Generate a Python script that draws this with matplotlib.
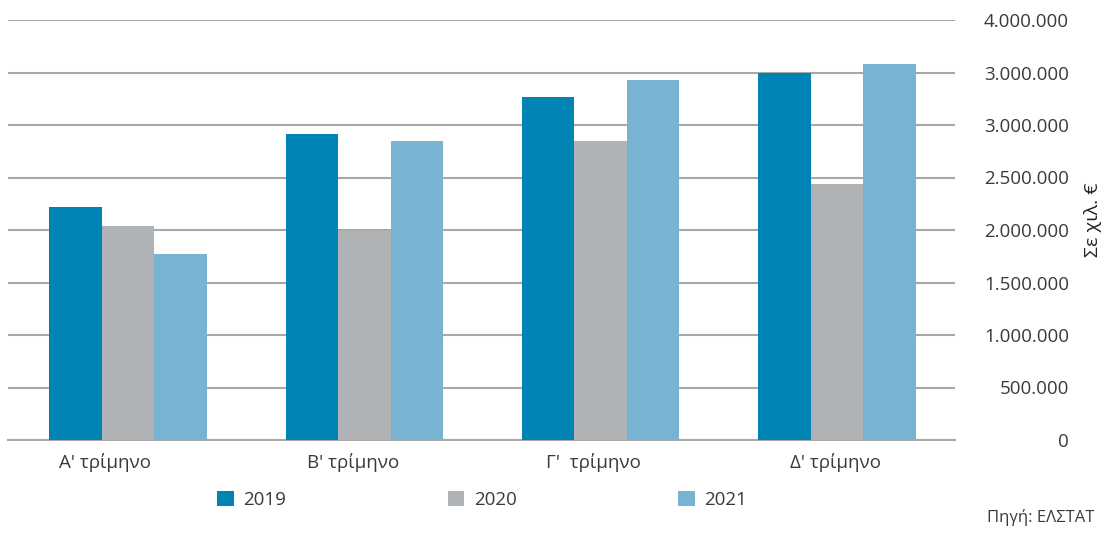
import numpy as np
import matplotlib.pyplot as plt
from matplotlib.transforms import ScaledTranslation

plt.rcParams['font.family'] = ['Open Sans', 'DejaVu Sans']

quarters = ["Α' τρίμηνο", "Β' τρίμηνο", "Γ'  τρίμηνο", "Δ' τρίμηνο"]
years = ["2019", "2020", "2021"]
v2019 = [2220000, 2915000, 3265000, 3495000]
v2020 = [2040000, 1990000, 2850000, 2440000]
v2021 = [1770000, 2850000, 3430000, 3580000]
yticks = [0, 500000, 1000000, 1500000, 2000000, 2500000, 3000000, 3500000, 4000000]
ytick_labels = ["0", "500.000", "1.000.000", "1.500.000", "2.000.000",
                "2.500.000", "3.000.000", "3.000.000", "4.000.000"]
colors = ["#0084b5", "#b0b3b6", "#78b4d1"]
label_shift = [-23, -11, -7, -1]  # px, category labels sit a bit left of the groups

fig = plt.figure(figsize=(11.05, 5.33), dpi=100)
ax = fig.add_axes([8 / 1105, 1 - 440 / 533, 947 / 1105, 420 / 533])

x = np.arange(len(quarters))
w = 0.222
for i, (vals, lab) in enumerate(zip([v2019, v2020, v2021], years)):
    ax.bar(x + (i - 1) * w, vals, w, color=colors[i], label=lab, zorder=3)

ax.set_xlim(-0.508, 3.5)
ax.set_ylim(0, 4000000)
ax.set_yticks(yticks)
ax.set_yticklabels(ytick_labels)
ax.yaxis.tick_right()
ax.tick_params(axis='y', length=0, pad=82, labelsize=13.5, labelcolor='#3a3a3a')
for t in ax.get_yticklabels():
    t.set_horizontalalignment('right')
ax.set_xticks(x)
ax.set_xticklabels(quarters)
ax.tick_params(axis='x', length=0, pad=9, labelsize=13.5, labelcolor='#3a3a3a')
for t, dx in zip(ax.get_xticklabels(), label_shift):
    t.set_transform(t.get_transform() + ScaledTranslation(dx / 100, 0, fig.dpi_scale_trans))

ax.grid(axis='y', color='#a8a8a8', linewidth=1.5, zorder=0)
for s in ['top', 'left', 'right']:
    ax.spines[s].set_visible(False)
ax.spines['bottom'].set_color('#a8a8a8')
ax.spines['bottom'].set_linewidth(1.5)

fig.text(1093 / 1105, 1 - 220 / 533, "Σε χιλ. €", rotation=90, ha='center',
         va='center', fontsize=14, color='#222222')

fig.legend(loc='center', bbox_to_anchor=(482 / 1105, 1 - 500 / 533), ncol=3,
           frameon=False, fontsize=13.5, handlelength=0.9, handleheight=0.9,
           handletextpad=0.5, columnspacing=8.6, labelcolor='#3a3a3a')

fig.text(1094 / 1105, 1 - 518 / 533, "Πηγή: ΕΛΣΤΑΤ", ha='right', va='center',
         fontsize=12, color='#3a3a3a')

fig.savefig("out.png", dpi=100)
